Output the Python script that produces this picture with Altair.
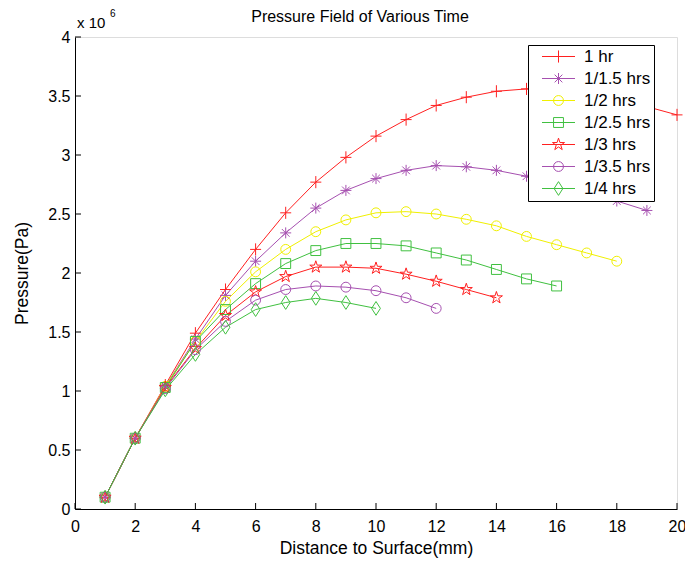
import math
import altair as alt
import pandas as pd

FONT = "Liberation Sans"

# ---------------- data (pressure in units of 10^6 Pa) ----------------
series_names = ["1 hr", "1/1.5 hrs", "1/2 hrs", "1/2.5 hrs", "1/3 hrs", "1/3.5 hrs", "1/4 hrs"]

p_1hr = [0.10, 0.60, 1.05, 1.49, 1.86, 2.20, 2.51, 2.77, 2.98, 3.16,
         3.30, 3.42, 3.49, 3.54, 3.56, 3.55, 3.52, 3.47, 3.41, 3.34]
p_1_1_5hr = [0.10, 0.60, 1.04, 1.44, 1.81, 2.10, 2.34, 2.55, 2.70, 2.80,
             2.87, 2.91, 2.90, 2.87, 2.82, 2.76, 2.69, 2.61, 2.53]
p_1_2hr = [0.10, 0.60, 1.04, 1.42, 1.76, 2.01, 2.20, 2.35, 2.45, 2.51,
           2.52, 2.50, 2.455, 2.40, 2.31, 2.24, 2.17, 2.10]
p_1_2_5hr = [0.10, 0.60, 1.03, 1.42, 1.69, 1.91, 2.08, 2.19, 2.25, 2.25,
             2.23, 2.17, 2.11, 2.03, 1.95, 1.89]
p_1_3hr = [0.10, 0.60, 1.03, 1.36, 1.64, 1.84, 1.97, 2.05, 2.05, 2.04,
           1.99, 1.93, 1.86, 1.79]
p_1_3_5hr = [0.10, 0.60, 1.02, 1.35, 1.59, 1.77, 1.86, 1.89, 1.88, 1.85,
             1.79, 1.70]
p_1_4hr = [0.10, 0.60, 1.01, 1.31, 1.54, 1.69, 1.75, 1.785, 1.75, 1.70]

series_values = [p_1hr, p_1_1_5hr, p_1_2hr, p_1_2_5hr, p_1_3hr, p_1_3_5hr, p_1_4hr]

x_ticks = [0, 2, 4, 6, 8, 10, 12, 14, 16, 18, 20]
y_ticks = [0, 0.5, 1, 1.5, 2, 2.5, 3, 3.5, 4]

# ---------------- styles ----------------
series_colors = ["#ff2020", "#a650b0", "#f0f000", "#40c040", "#ff2020", "#a650b0", "#40c040"]


def circle_path(r):
    return f"M{r},0A{r},{r} 0 1,1 {-r},0A{r},{r} 0 1,1 {r},0Z"


def star_path(ro=1.15, ri=0.44):
    pts = []
    for k in range(10):
        ang = -math.pi / 2 + k * math.pi / 5
        r = ro if k % 2 == 0 else ri
        pts.append((r * math.cos(ang), r * math.sin(ang)))
    return "M" + "L".join(f"{x:.3f},{y:.3f}" for x, y in pts) + "Z"


marker_paths = [
    "M-1,0H1M0,-1.1V1.1",
    "M-1,0H1M0,-1V1M-0.7,-0.7L0.7,0.7M-0.7,0.7L0.7,-0.7",
    circle_path(0.9),
    "M-0.9,-0.9H0.9V0.9H-0.9Z",
    star_path(),
    circle_path(0.9),
    "M0,-1.25L0.8,0L0,1.25L-0.8,0Z",
]
legend_paths = ["M-3,0H3" + p for p in marker_paths]

rows = []
for name, vals in zip(series_names, series_values):
    for i, v in enumerate(vals):
        rows.append({"series": name, "distance": i + 1, "pressure": v})
df = pd.DataFrame(rows)

W, H = 602, 472

x_axis = alt.Axis(
    values=x_ticks, title="Distance to Surface(mm)", ticks=False,
    grid=False, domainColor="black", domainWidth=1, labelFont=FONT,
    labelFontSize=16, labelColor="black", labelPadding=9, titleFont=FONT,
    titleFontSize=17.5, titleFontWeight="normal", titleColor="black",
    titlePadding=5, labelFlush=False,
)
y_axis = alt.Axis(
    values=y_ticks, title="Pressure(Pa)", format="~g", ticks=False,
    grid=False, domainColor="black", domainWidth=1, labelFont=FONT,
    labelFontSize=16, labelColor="black", labelPadding=5, titleFont=FONT,
    titleFontSize=17.5, titleFontWeight="normal", titleColor="black",
    titlePadding=16, labelFlush=False,
)
x_scale = alt.Scale(domain=[0, 20], nice=False)
y_scale = alt.Scale(domain=[0, 4], nice=False)
x_enc = alt.X("distance:Q", scale=x_scale, axis=x_axis)
y_enc = alt.Y("pressure:Q", scale=y_scale, axis=y_axis)

color_scale = alt.Scale(domain=series_names, range=series_colors)

base = alt.Chart(df)

lines = base.mark_line(strokeWidth=1).encode(
    x=x_enc, y=y_enc,
    color=alt.Color("series:N", scale=color_scale, legend=None),
)

points = base.mark_point(filled=False, strokeWidth=1, size=121, opacity=1).encode(
    x=x_enc, y=y_enc,
    color=alt.Color("series:N", scale=color_scale, legend=None),
    shape=alt.Shape("series:N", scale=alt.Scale(domain=series_names, range=marker_paths), legend=None),
)

legend_props = dict(
    title=None, orient="none", legendX=453, legendY=8,
    strokeColor="black", fillColor="white", padding=3,
    labelFont=FONT, labelFontSize=17, labelColor="black",
    symbolSize=121, symbolStrokeWidth=1, symbolOffset=19, labelOffset=17,
    rowPadding=4, cornerRadius=0,
)

legend_layer = base.transform_filter("false").mark_point(
    filled=False, strokeWidth=1, size=121, opacity=1
).encode(
    x=x_enc, y=y_enc,
    color=alt.Color("series:N", scale=color_scale, legend=alt.Legend(**legend_props)),
    shape=alt.Shape("series:N", scale=alt.Scale(domain=series_names, range=legend_paths),
                    legend=alt.Legend(**legend_props)),
)

xt = alt.Chart(pd.DataFrame({"distance": x_ticks})).mark_rule(color="black", strokeWidth=1).encode(
    x=x_enc, y=alt.value(H), y2=alt.value(H - 6)
)
yt = alt.Chart(pd.DataFrame({"pressure": y_ticks})).mark_rule(color="black", strokeWidth=1).encode(
    y=y_enc, x=alt.value(0), x2=alt.value(6)
)

exp_df = pd.DataFrame({"label": ["x 10"], "sup": ["6"]})
exp_text = alt.Chart(exp_df).mark_text(
    font=FONT, fontSize=15, color="black", align="left", baseline="middle"
).encode(x=alt.value(2), y=alt.value(-14), text="label:N")
exp_sup = alt.Chart(exp_df).mark_text(
    font=FONT, fontSize=10, color="black", align="left", baseline="middle"
).encode(x=alt.value(35), y=alt.value(-23), text="sup:N")

chart = alt.layer(lines, points, legend_layer, xt, yt, exp_text, exp_sup).resolve_scale(
    color="independent", shape="independent"
).properties(
    width=W, height=H,
    title=alt.TitleParams(
        "Pressure Field of Various Time", font=FONT, fontSize=16, fontWeight="normal",
        color="black", anchor="middle", offset=-16, dx=-16,
    ),
    autosize=alt.AutoSizeParams(type="none"),
    padding={"left": 67, "top": 29, "right": 8, "bottom": 50},
).configure_view(stroke=None).configure(background="white")

chart.save("out.html", embed_options={"renderer": "svg", "actions": False})
